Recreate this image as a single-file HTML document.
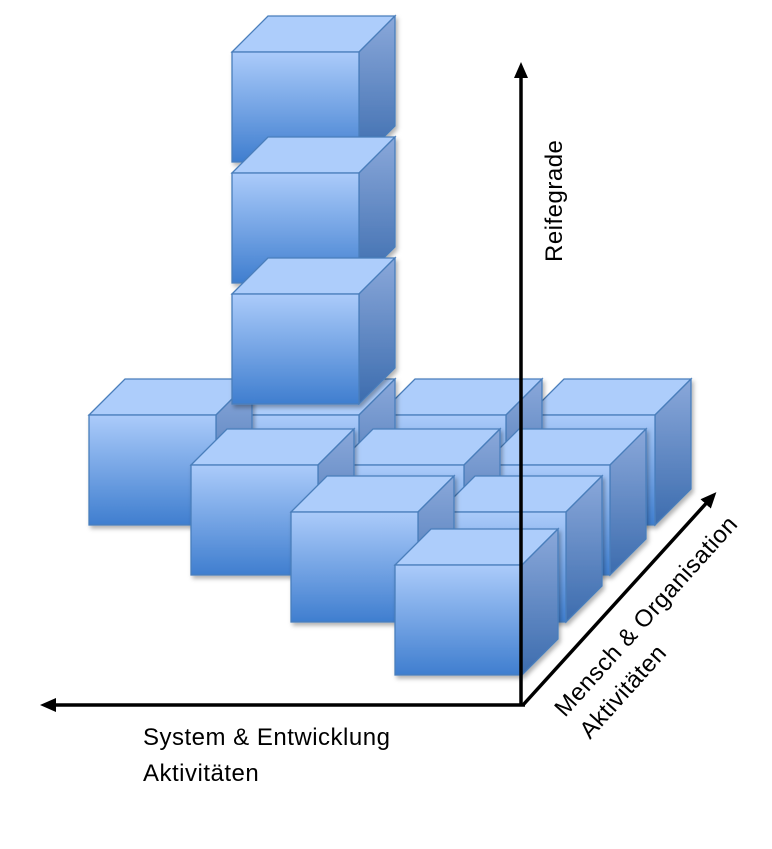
<!DOCTYPE html>
<html><head><meta charset="utf-8"><style>
html,body{margin:0;padding:0;background:#fff;}
svg{display:block}
text{font-family:"Liberation Sans","DejaVu Sans",sans-serif;font-size:24px;fill:#000;letter-spacing:0.5px}
</style></head><body>
<svg width="772" height="849" viewBox="0 0 772 849" xmlns="http://www.w3.org/2000/svg">
<defs>
<linearGradient id="gf" x1="0" y1="0" x2="0" y2="1"><stop offset="0" stop-color="#abcbfa"/><stop offset="1" stop-color="#3f7ecf"/></linearGradient>
<linearGradient id="gs" x1="0" y1="0" x2="0" y2="1"><stop offset="0" stop-color="#8aa8da"/><stop offset="1" stop-color="#3c6cae"/></linearGradient>
<filter id="sh" x="-10%" y="-10%" width="130%" height="130%"><feDropShadow dx="2" dy="3" stdDeviation="2" flood-color="#000" flood-opacity="0.3"/></filter>
<g id="c" filter="url(#sh)">
<polygon points="0,0 36,-36 163,-36 127,0" fill="#adcdfb" stroke="#4a7ebb" stroke-width="1.3"/>
<polygon points="127,0 163,-36 163,74 127,110" fill="url(#gs)" stroke="#4a7ebb" stroke-width="1.3"/>
<rect x="0" y="0" width="127" height="110" fill="url(#gf)" stroke="#4a7ebb" stroke-width="1.3"/>
</g>
<marker id="ah" markerWidth="16" markerHeight="14" refX="8" refY="7" orient="auto" markerUnits="userSpaceOnUse">
<path d="M0,0 L16,7 L0,14 z" fill="#000"/></marker>
</defs>
<use href="#c" x="528" y="415"/>
<use href="#c" x="379" y="415"/>
<use href="#c" x="232" y="415"/>
<use href="#c" x="89" y="415"/>
<use href="#c" x="232" y="52"/>
<use href="#c" x="232" y="173"/>
<use href="#c" x="232" y="294"/>
<use href="#c" x="483" y="465"/>
<use href="#c" x="337" y="465"/>
<use href="#c" x="191" y="465"/>
<use href="#c" x="439" y="512"/>
<use href="#c" x="291" y="512"/>
<use href="#c" x="395" y="565"/>
<line x1="521" y1="705" x2="521" y2="70" stroke="#000" stroke-width="3.5" marker-end="url(#ah)"/>
<line x1="525" y1="705" x2="48" y2="705" stroke="#000" stroke-width="3.5" marker-end="url(#ah)"/>
<line x1="523" y1="705" x2="711" y2="498" stroke="#000" stroke-width="3.5" marker-end="url(#ah)"/>
<text transform="translate(562,262) rotate(-90)">Reifegrade</text>
<text x="143" y="745">System &amp; Entwicklung</text>
<text x="143" y="781">Aktivitäten</text>
<text transform="translate(565,718) rotate(-48)">Mensch &amp; Organisation</text>
<text transform="translate(590,740) rotate(-48)">Aktivitäten</text>
</svg>
</body></html>
